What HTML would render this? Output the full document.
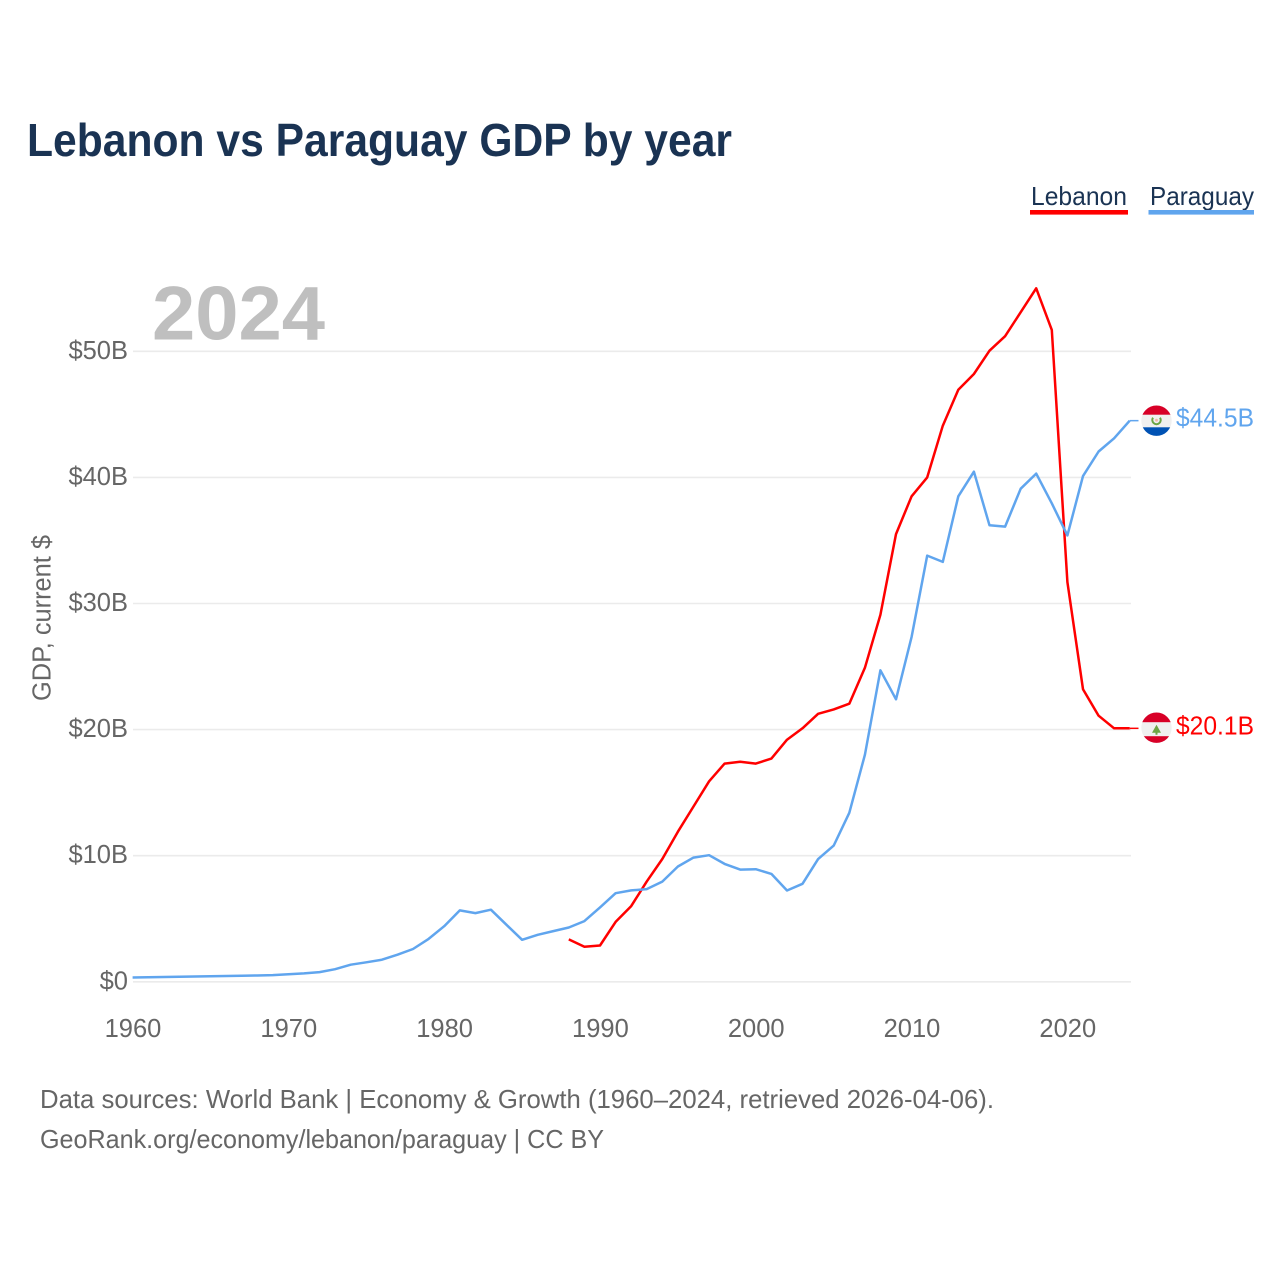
<!DOCTYPE html>
<html lang="en">
<head>
<meta charset="utf-8">
<title>Lebanon vs Paraguay GDP by year</title>
<style>
html,body{margin:0;padding:0;background:#fff;}
svg{display:block;font-family:"Liberation Sans",sans-serif;}
</style>
</head>
<body>
<svg id="chart" width="1280" height="1280" viewBox="0 0 1280 1280" xmlns="http://www.w3.org/2000/svg">
  <defs>
    <clipPath id="flag-clip"><circle cx="0" cy="0" r="15.2"></circle></clipPath>
  </defs>
  <rect x="0" y="0" width="1280" height="1280" fill="#ffffff"></rect>
  <text x="27" y="156" font-size="46" font-weight="700" fill="#1a3353" textLength="705" lengthAdjust="spacingAndGlyphs">Lebanon vs Paraguay GDP by year</text>

  <g id="grid"></g>
  <g id="y-ticks"></g>
  <g id="x-ticks"></g>

  <text x="152" y="339.5" font-size="76" font-weight="700" fill="#bfbfbf" textLength="173" lengthAdjust="spacingAndGlyphs">2024</text>
  <text transform="translate(50.5,618) rotate(-90)" text-anchor="middle" font-size="25.5" fill="#666666" textLength="166" lengthAdjust="spacingAndGlyphs">GDP, current $</text>

  <g id="series"></g>

  <g>
    <g>
      <text x="1031" y="205" font-size="26" fill="#1a3353" textLength="96" lengthAdjust="spacingAndGlyphs">Lebanon</text>
      <rect x="1030" y="210" width="98" height="4.6" fill="#ff0000"></rect>
    </g>
    <g>
      <text x="1150" y="205" font-size="26" fill="#1a3353" textLength="104" lengthAdjust="spacingAndGlyphs">Paraguay</text>
      <rect x="1148.5" y="210" width="105.5" height="4.6" fill="#60a5ee"></rect>
    </g>
  </g>

  <g id="end-paraguay">
    <g clip-path="url(#flag-clip)">
      <rect x="-16" y="-16" width="32" height="32" fill="#f0f0f0"></rect>
      <rect x="-16" y="-16" width="32" height="10" fill="#d80027"></rect>
      <rect x="-16" y="6.6" width="32" height="10" fill="#0052b4"></rect>
      <path d="M-3.5,-3 A4.2,4.2 0 1 0 3.5,-3" fill="none" stroke="#6da544" stroke-width="2"></path>
      <circle cx="0" cy="-0.5" r="1.4" fill="#f4b8a8"></circle>
    </g>
    <text id="label-paraguay" x="97.5" y="6" text-anchor="end" font-size="26" fill="#60a5ee" textLength="78" lengthAdjust="spacingAndGlyphs"></text>
  </g>

  <g id="end-lebanon">
    <g transform="translate(0,-0.6)">
      <g clip-path="url(#flag-clip)">
        <rect x="-16" y="-16" width="32" height="32" fill="#f0f0f0"></rect>
        <rect x="-16" y="-16" width="32" height="10.5" fill="#d80027"></rect>
        <rect x="-16" y="8.5" width="32" height="8" fill="#d80027"></rect>
        <polygon points="0,-3 4.5,5 1,5 1,7 -1,7 -1,5 -4.5,5" fill="#6da544"></polygon>
      </g>
    </g>
    <text id="label-lebanon" x="97.5" y="6" text-anchor="end" font-size="26" fill="#ff0000" textLength="78" lengthAdjust="spacingAndGlyphs"></text>
  </g>

  <text x="40" y="1108" font-size="26" fill="#666666" textLength="954" lengthAdjust="spacingAndGlyphs">Data sources: World Bank | Economy &amp; Growth (1960–2024, retrieved 2026-04-06).</text>
  <text x="40" y="1148" font-size="26" fill="#666666" textLength="564" lengthAdjust="spacingAndGlyphs">GeoRank.org/economy/lebanon/paraguay | CC BY</text>
</svg>

<script>
const years = [1960,1961,1962,1963,1964,1965,1966,1967,1968,1969,1970,1971,1972,1973,1974,1975,1976,1977,1978,1979,1980,1981,1982,1983,1984,1985,1986,1987,1988,1989,1990,1991,1992,1993,1994,1995,1996,1997,1998,1999,2000,2001,2002,2003,2004,2005,2006,2007,2008,2009,2010,2011,2012,2013,2014,2015,2016,2017,2018,2019,2020,2021,2022,2023,2024];
const paraguayValues = [0.34,0.36,0.38,0.40,0.42,0.44,0.46,0.48,0.50,0.53,0.60,0.67,0.77,1.0,1.36,1.55,1.75,2.15,2.6,3.4,4.41,5.66,5.45,5.72,4.52,3.33,3.73,4.02,4.31,4.81,5.9,7.03,7.25,7.35,7.95,9.14,9.85,10.04,9.35,8.9,8.93,8.56,7.24,7.77,9.73,10.8,13.4,18.0,24.7,22.4,27.35,33.8,33.3,38.5,40.45,36.2,36.1,39.1,40.3,37.95,35.4,40.1,42.05,43.1,44.5];
const lebanonValues = [null,null,null,null,null,null,null,null,null,null,null,null,null,null,null,null,null,null,null,null,null,null,null,null,null,null,null,null,3.36,2.78,2.88,4.75,6.0,7.95,9.74,11.9,13.9,15.9,17.3,17.45,17.3,17.7,19.2,20.1,21.25,21.6,22.05,24.9,29.1,35.5,38.5,40.0,44.1,46.95,48.2,50.05,51.2,53.1,55.0,51.7,31.7,23.2,21.1,20.1,20.1];
const yTickValues = [0,10,20,30,40,50];
const xTickYears = [1960,1970,1980,1990,2000,2010,2020];

const SVG_NS = 'http://www.w3.org/2000/svg';
const xScale = function (year) { return 132.6 + (year - 1960) * 15.58; };
const yScale = function (value) { return 981.8 - value * 12.61; };

function make(tag, parent, attrs, text) {
  const el = document.createElementNS(SVG_NS, tag);
  Object.keys(attrs).forEach(function (k) { el.setAttribute(k, attrs[k]); });
  if (text !== undefined) el.textContent = text;
  parent.appendChild(el);
  return el;
}

const grid = document.getElementById('grid');
const yTicksGroup = document.getElementById('y-ticks');
const xTicksGroup = document.getElementById('x-ticks');
const seriesGroup = document.getElementById('series');

yTickValues.forEach(function (v) {
  const line = make('line', grid, { x1: 133, x2: 1131, y1: yScale(v), y2: yScale(v), stroke: '#ebebeb', 'stroke-width': 1.6 });
  
  
  const label = make('text', yTicksGroup, { x: 128, y: yScale(v) + 7.5, 'text-anchor': 'end', 'font-size': 25.5, fill: '#666666' }, '$' + v + (v === 0 ? '' : 'B'));
  
  
});

xTickYears.forEach(function (y) {
  const label = make('text', xTicksGroup, { x: xScale(y) + 0.4, y: 1037, 'text-anchor': 'middle', 'font-size': 25.5, fill: '#666666' }, String(y));
  
  
});

function linePoints(values) {
  const pts = [];
  values.forEach(function (v, i) {
    if (v !== null) pts.push(xScale(years[i]).toFixed(1) + ',' + yScale(v).toFixed(1));
  });
  return pts.join(' ');
}

const lebanonLine = make('polyline', seriesGroup, { points: linePoints(lebanonValues), fill: 'none', stroke: '#ff0000', 'stroke-width': 2.5, 'stroke-linejoin': 'round' });



const paraguayLine = make('polyline', seriesGroup, { points: linePoints(paraguayValues), fill: 'none', stroke: '#60a5ee', 'stroke-width': 2.5, 'stroke-linejoin': 'round' });



const lastYear = years[years.length - 1];
const lastLebanon = lebanonValues[lebanonValues.length - 1];
const lastParaguay = paraguayValues[paraguayValues.length - 1];

const leaderLebanon = make('line', seriesGroup, { x1: xScale(lastYear), x2: 1138.5, y1: yScale(lastLebanon), y2: yScale(lastLebanon), stroke: '#ff0000', 'stroke-width': 1.5 });



const leaderParaguay = make('line', seriesGroup, { x1: xScale(lastYear), x2: 1138.5, y1: yScale(lastParaguay), y2: yScale(lastParaguay), stroke: '#60a5ee', 'stroke-width': 1.5 });



document.getElementById('end-lebanon').setAttribute('transform', 'translate(1156.5,' + yScale(lastLebanon).toFixed(1) + ')');
document.getElementById('end-paraguay').setAttribute('transform', 'translate(1156.5,' + yScale(lastParaguay).toFixed(1) + ')');
document.getElementById('label-lebanon').textContent = '$' + lastLebanon.toFixed(1) + 'B';
document.getElementById('label-paraguay').textContent = '$' + lastParaguay.toFixed(1) + 'B';
</script>
</body>
</html>
